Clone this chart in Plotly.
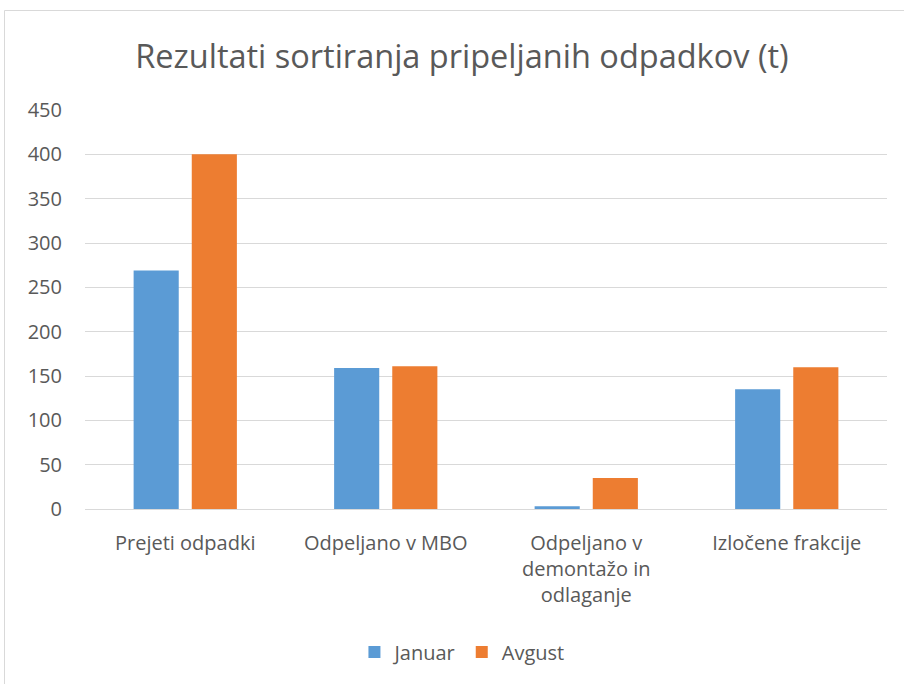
import plotly.graph_objects as go

categories = ["Prejeti odpadki", "Odpeljano v MBO", "Odpeljano v<br>demontažo in<br>odlaganje", "Izločene frakcije"]
januar = [269, 159, 3, 135]
avgust = [400, 161, 35, 160]
series_names = ["Januar", "Avgust"]
colors = ["#5B9BD5", "#ED7D31"]

W, H = 904, 684
ml, mr, mt, mb = 85, 17, 110, 175

fig = go.Figure()
for name, vals, c in zip(series_names, [januar, avgust], colors):
    fig.add_trace(go.Bar(name=name, x=categories, y=vals, marker=dict(color=c, line=dict(width=0))))

pw = W - ml - mr
ph = H - mt - mb
def px_to_paper_x(p):
    return (p - ml) / pw
def px_to_paper_y(p):
    return (H - mb - p) / ph

fig.add_shape(type="rect", xref="paper", yref="paper",
              x0=px_to_paper_x(4.5), x1=px_to_paper_x(920), y0=px_to_paper_y(700), y1=px_to_paper_y(10.5),
              line=dict(color="#d9d9d9", width=1), fillcolor="rgba(0,0,0,0)", layer="below")

fig.update_layout(
    width=W, height=H,
    margin=dict(l=ml, r=mr, t=mt, b=mb),
    paper_bgcolor="white", plot_bgcolor="white",
    font=dict(family="Open Sans, sans-serif", color="#595959", size=20),
    title=dict(text="Rezultati sortiranja pripeljanih odpadkov (t)", x=0.511, xanchor="center",
               y=1 - 57 / H, yanchor="middle", font=dict(size=32.5, color="#595959")),
    barmode="group", bargap=0.42, bargroupgap=0.224,
    xaxis=dict(showgrid=False, showline=True, linecolor="#d9d9d9", ticks="",
               ticklabelstandoff=16, tickfont=dict(size=20, color="#595959")),
    yaxis=dict(range=[0, 450], dtick=50, showgrid=True, gridcolor="#d9d9d9", gridwidth=1,
               zeroline=False, showline=False, ticks="", ticklabelstandoff=22,
               tickfont=dict(size=20, color="#595959")),
    legend=dict(orientation="h", x=0.47, xanchor="center", y=px_to_paper_y(652), yanchor="middle",
                font=dict(size=20, color="#595959"), traceorder="normal", itemwidth=30),
    showlegend=True,
)

fig.write_html("out.html", config={"displayModeBar": False},
               post_script="document.body.style.margin='0';")
